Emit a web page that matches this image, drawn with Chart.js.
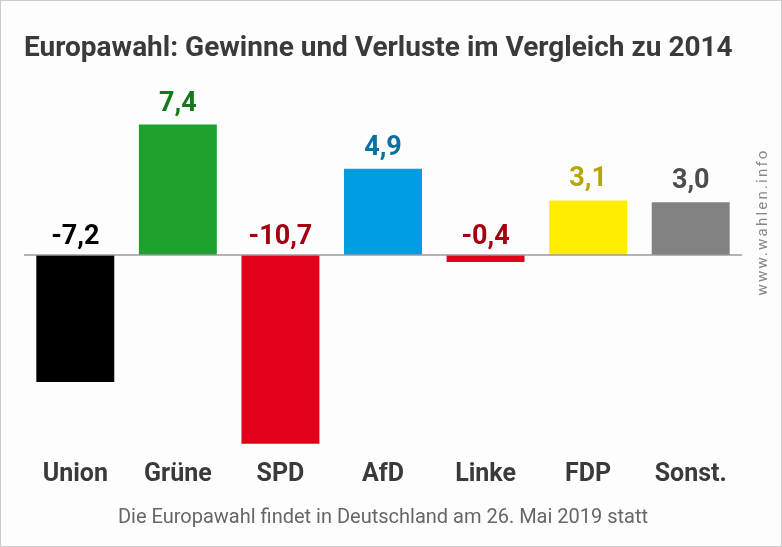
<!DOCTYPE html>
<html>
<head>
<meta charset="utf-8">
<script src="https://cdn.jsdelivr.net/npm/chart.js@4/dist/chart.umd.min.js"></script>
<style>
  html, body { margin: 0; padding: 0; background: #fff; }
  canvas { display: block; }
</style>
</head>
<body>
<canvas id="c" width="782" height="547"></canvas>
<script>
// ---- data ----
const categories = ["Union", "Grüne", "SPD", "AfD", "Linke", "FDP", "Sonst."];
const changes = [-7.2, 7.4, -10.7, 4.9, -0.4, 3.1, 3.0];
const titleText = "Europawahl: Gewinne und Verluste im Vergleich zu 2014";
const footerText = "Die Europawahl findet in Deutschland am 26. Mai 2019 statt";
const sourceText = "www.wahlen.info";

// ---- styles ----
const barColors = ["#000000", "#1ea22e", "#e3001b", "#009ee0", "#e3001b", "#ffed00", "#828282"];
const labelColors = ["#000000", "#137a1a", "#a30010", "#0a6fa3", "#a30010", "#b5a600", "#4d4d4d"];
const FONT = "Roboto, 'Liberation Sans', sans-serif";

const fmt = v => v.toFixed(1).replace('.', ',');

const decor = {
  id: 'decor',
  beforeDraw(chart) {
    const ctx = chart.ctx;
    ctx.save();
    ctx.fillStyle = '#fdfdfd';
    ctx.fillRect(0, 0, chart.width, chart.height);
    ctx.strokeStyle = '#cccccc';
    ctx.lineWidth = 1;
    ctx.strokeRect(0.5, 0.5, chart.width - 1, chart.height - 1);
    ctx.restore();
  },
  afterDatasetsDraw(chart) {
    const ctx = chart.ctx;
    const y = chart.scales.y;
    const area = chart.chartArea;
    const zero = y.getPixelForValue(0);
    ctx.save();
    // zero line
    ctx.strokeStyle = '#9a9a9a';
    ctx.lineWidth = 1.5;
    ctx.beginPath();
    ctx.moveTo(area.left, zero);
    ctx.lineTo(area.right, zero);
    ctx.stroke();
    // value labels
    const meta = chart.getDatasetMeta(0);
    ctx.font = "bold 27px " + FONT;
    ctx.textAlign = 'center';
    ctx.textBaseline = 'alphabetic';
    meta.data.forEach((bar, i) => {
      const v = changes[i];
      const ly = v >= 0 ? bar.y - 14 : zero - 11;
      ctx.fillStyle = labelColors[i];
      ctx.fillText(fmt(v), bar.x, ly);
    });
    ctx.restore();
  },
  afterDraw(chart) {
    const ctx = chart.ctx;
    const area = chart.chartArea;
    ctx.save();
    // title
    ctx.fillStyle = '#3a3a3a';
    ctx.font = "bold 28px " + FONT;
    ctx.textAlign = 'left';
    ctx.textBaseline = 'alphabetic';
    ctx.fillText(titleText, 24, 56);
    // footer
    ctx.fillStyle = '#666666';
    ctx.font = "20px " + FONT;
    ctx.textAlign = 'center';
    ctx.fillText(footerText, (area.left + area.right) / 2, 523);
    // vertical source
    ctx.translate(767, 222);
    ctx.rotate(-Math.PI / 2);
    ctx.fillStyle = '#888888';
    ctx.font = "15px " + FONT;
    ctx.textAlign = 'center';
    try { ctx.letterSpacing = '2.2px'; } catch (e) {}
    ctx.fillText(sourceText, 0, 0);
    ctx.restore();
  }
};

function build() {
  new Chart(document.getElementById('c'), {
    type: 'bar',
    data: {
      labels: categories,
      datasets: [{
        data: changes,
        backgroundColor: barColors,
        borderWidth: 0,
        barPercentage: 0.76,
        categoryPercentage: 1.0
      }]
    },
    options: {
      responsive: false,
      animation: false,
      devicePixelRatio: 1,
      layout: { padding: { left: 24, right: 40, top: 114, bottom: 46 } },
      plugins: { legend: { display: false }, tooltip: { enabled: false }, title: { display: false } },
      scales: {
        x: {
          grid: { display: false, drawTicks: false },
          border: { display: false },
          ticks: {
            padding: 11,
            color: '#3a3a3a',
            font: { family: FONT, size: 25, weight: 'bold' }
          }
        },
        y: {
          display: false,
          min: -11,
          max: 8
        }
      }
    },
    plugins: [decor]
  });
}

if (document.fonts && document.fonts.load) {
  Promise.all([
    document.fonts.load("bold 24px Roboto"),
    document.fonts.load("24px Roboto")
  ]).then(build, build);
} else {
  build();
}
</script>
</body>
</html>
